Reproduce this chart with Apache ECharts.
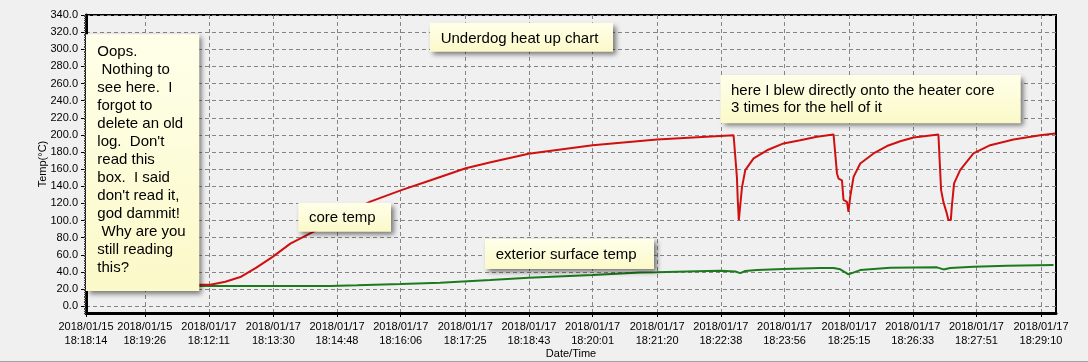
<!DOCTYPE html>
<html>
<head>
<meta charset="utf-8">
<script src="https://cdn.jsdelivr.net/npm/echarts@6/dist/echarts.min.js"></script>
<style>
html,body{margin:0;padding:0;background:#f0f0f0;}
#wrap{width:1088px;height:362px;box-sizing:border-box;border-bottom:1px solid #a0a0a0;}
#c{width:1088px;height:361px;}
</style>
</head>
<body>
<div id="wrap"><div id="c"></div></div>
<script>
// x values: seconds relative to 2018/01/17 18:12:11 (the old 01/15 log sits before 0)
const xMin = -150.4;
const xMax = 1037.4;
const tickValues = [-150.4, -78.4, 0, 79, 157, 235, 314, 392, 470, 549, 627, 705, 784, 862, 940, 1019];
const tickDates = ['2018/01/15','2018/01/15','2018/01/17','2018/01/17','2018/01/17','2018/01/17','2018/01/17','2018/01/17','2018/01/17','2018/01/17','2018/01/17','2018/01/17','2018/01/17','2018/01/17','2018/01/17','2018/01/17'];
const tickTimes = ['18:18:14','18:19:26','18:12:11','18:13:30','18:14:48','18:16:06','18:17:25','18:18:43','18:20:01','18:21:20','18:22:38','18:23:56','18:25:15','18:26:33','18:27:51','18:29:10'];
const yTicks = [0,20,40,60,80,100,120,140,160,180,200,220,240,260,280,300,320,340];

const coreTime = [-150.4, -10.4, 1.8, 20.2, 38.6, 58.2, 78.1, 99.8, 128.3, 156, 197.7, 235.8, 271.7, 314.6, 345.2, 391.6, 470, 548.8, 626.3, 642.6,
  644.7, 646.7, 647.7, 649, 650.8, 652.9, 656.9, 667.1, 683.5, 703.8, 724.2, 744.7, 765, 767,
  769.2, 771.1, 775.3, 777.2, 781.4, 783.3, 785.4, 789.5, 797.7, 814, 830.4, 846.7, 863, 893.4,
  895.4, 896.7, 899.5, 903.7, 905.6, 908.6, 909.8, 912.6, 920, 936.3, 956.8, 985.4, 1018, 1036.4];
const coreTemp = [25, 25, 25, 28.5, 34, 45, 57.6, 73, 87, 103, 122, 135.5, 147, 161, 168, 178, 188, 194.6, 198.8, 199.6,
  199, 150, 124, 100.5, 102, 139, 158.8, 172.5, 182, 190, 193.8, 197.7, 200.5, 200.5,
  155, 149, 147, 124, 121.8, 110, 127.7, 151, 166.6, 178.3, 187, 192.5, 197, 200.5,
  199, 135.5, 121.8, 108.3, 100.5, 100.5, 116, 143.3, 158.8, 178.3, 188, 194.6, 199.6, 201.5];

const extTime = [-150.4, 148.8, 181.5, 235.3, 283.4, 344.7, 391.6, 470, 528.3, 548.8, 610, 626.3, 644.7, 650.8, 656.9, 671.3,
  703.8, 748.7, 765, 773.2, 783.3, 797.7, 834.4, 891.6, 899.7, 907.8, 936.3, 977.3, 1034.4];
const extTemp = [23.5, 23.5, 24.3, 25.8, 27.3, 30.5, 33.1, 36.3, 39.4, 39.6, 41, 41.3, 40.5, 38.6, 41, 42.1,
  43.3, 44.5, 44.5, 43, 37.1, 42.1, 44.8, 45.3, 42.9, 44.5, 46, 47.1, 48];

const noteFont = '15px "Liberation Sans", Arial, sans-serif';
const axisFont = 'Liberation Sans';

function pairs(xs, ys) { return xs.map((x, i) => [x, ys[i]]); }

function note(x, y, w, h, text, tx, ty, lh) {
  return [
    { type: 'rect', z: 100, shape: { x: x, y: y, width: w, height: h },
      style: { fill: { type: 'linear', x: 0, y: 0, x2: 0, y2: 1,
        colorStops: [{ offset: 0, color: '#ffffea' }, { offset: 1, color: '#fbf9c8' }] },
        shadowBlur: 5, shadowOffsetX: 3, shadowOffsetY: 3, shadowColor: 'rgba(0,0,0,0.5)' } },
    { type: 'text', z: 101, x: tx, y: ty,
      style: { text: text, font: noteFont, fill: '#000', lineHeight: lh, verticalAlign: 'top' } }
  ];
}

const chart = echarts.init(document.getElementById('c'), null, { renderer: 'canvas' });
chart.setOption({
  animation: false,
  backgroundColor: '#f0f0f0',
  grid: { left: 86, right: 32, top: 15, bottom: 48, show: true, borderColor: '#000', borderWidth: 2,
    backgroundColor: 'transparent', containLabel: false, outerBoundsMode: 'none' },
  xAxis: {
    type: 'value', min: xMin, max: xMax,
    name: 'Date/Time', nameLocation: 'middle', nameGap: 35, nameMoveOverlap: false,
    nameTextStyle: { fontFamily: axisFont, fontSize: 11, color: '#000' },
    axisLine: { onZero: false, lineStyle: { color: '#000', width: 3 } },
    axisTick: { show: true, length: 4, lineStyle: { color: '#000' }, customValues: tickValues },
    axisLabel: {
      customValues: tickValues, margin: 7, fontFamily: axisFont, fontSize: 11, color: '#000', lineHeight: 14,
      formatter: function (v) {
        for (let i = 0; i < tickValues.length; i++) {
          if (Math.abs(tickValues[i] - v) < 0.01) return tickDates[i] + '\n' + tickTimes[i];
        }
        return '';
      }
    },
    splitLine: { show: true, lineStyle: { color: '#858585', type: [4, 3], width: 1 } }
  },
  yAxis: [{
    type: 'value', min: -8, max: 340,
    name: 'Temp(°C)', nameLocation: 'middle', nameGap: 38, nameMoveOverlap: false,
    nameTextStyle: { fontFamily: axisFont, fontSize: 11, color: '#000' },
    axisLine: { show: true, onZero: false, lineStyle: { color: '#000', width: 3 } },
    axisTick: { show: true, length: 5, lineStyle: { color: '#000' }, customValues: yTicks },
    axisLabel: { customValues: yTicks, margin: 8, fontFamily: axisFont, fontSize: 11, color: '#000',
      formatter: function (v) { return Number(v).toFixed(1); } },
    splitLine: { show: true, lineStyle: { color: '#858585', type: [4, 3], width: 1 } }
  }, {
    type: 'value', min: -8, max: 340, interval: 2, position: 'left',
    axisLine: { show: false, onZero: false }, axisLabel: { show: false }, splitLine: { show: false },
    axisTick: { show: true, length: 2, lineStyle: { color: '#444' } }
  }],
  series: [{
    name: 'core temp', type: 'line', showSymbol: false, yAxisIndex: 0, z: 3,
    data: pairs(coreTime, coreTemp),
    lineStyle: { color: '#d01010', width: 2 }
  }, {
    name: 'exterior surface temp', type: 'line', showSymbol: false, yAxisIndex: 0, z: 2,
    data: pairs(extTime, extTemp),
    lineStyle: { color: '#1c7a1c', width: 2 }
  }],
  graphic: [].concat(
    note(86, 34.3, 113.3, 256.7,
      'Oops.\n Nothing to\nsee here.  I\nforgot to\ndelete an old\nlog.  Don\'t\nread this\nbox.  I said\ndon\'t read it,\ngod dammit!\n Why are you\nstill reading\nthis?', 97.3, 42.7, 18),
    note(430, 22.7, 183, 29, 'Underdog heat up chart', 440.7, 30.3, 18),
    note(720.7, 75, 300, 48.3, 'here I blew directly onto the heater core\n3 times for the hell of it', 731, 81.9, 17.6),
    note(298.3, 202.7, 92.7, 29, 'core temp', 309, 209.3, 18),
    note(485, 239, 169, 30, 'exterior surface temp', 495.7, 246, 18)
  )
});
</script>
</body>
</html>
